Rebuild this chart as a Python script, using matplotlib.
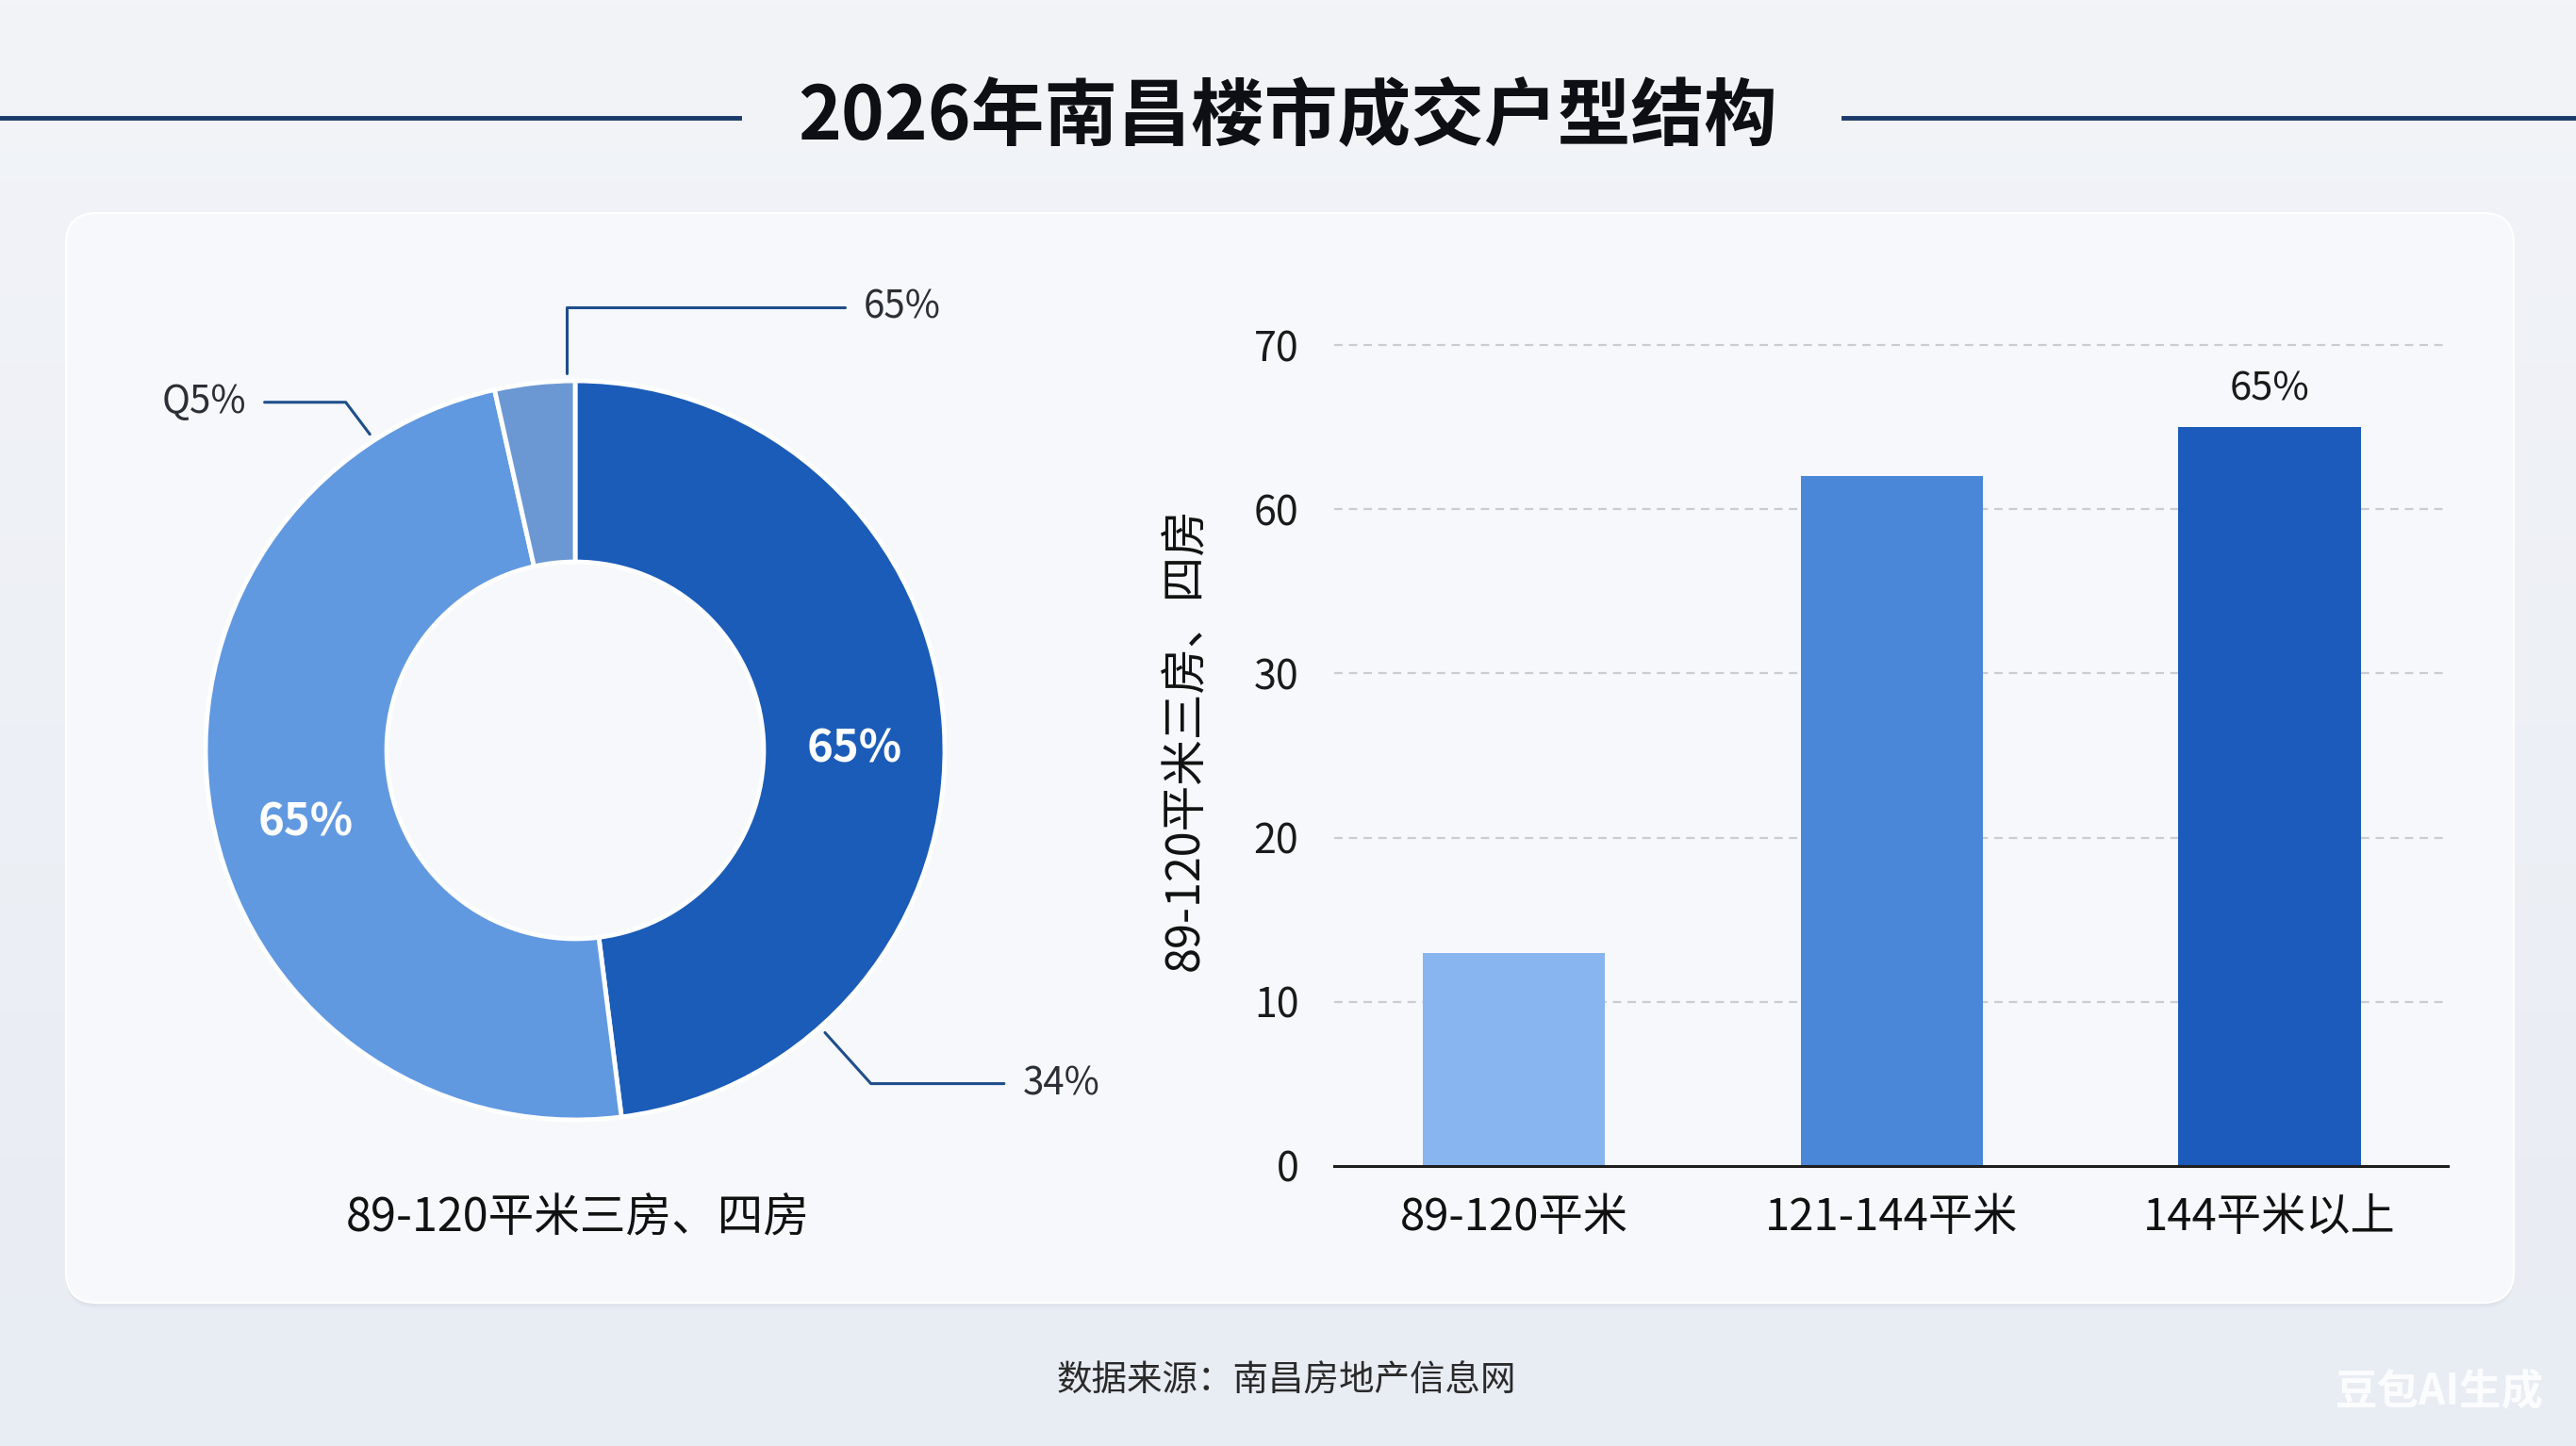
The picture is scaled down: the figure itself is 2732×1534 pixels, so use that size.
import numpy as np
import matplotlib
matplotlib.use('Agg')
import matplotlib.pyplot as plt
from matplotlib.patches import FancyBboxPatch

plt.rcParams['font.family'] = ['Noto Sans CJK SC', 'DejaVu Sans']

################################
#### data
################################

title = '2026年南昌楼市成交户型结构'
source = '数据来源：南昌房地产信息网'

# donut (clockwise from 12 o'clock)
donut_shares = [48.0, 48.5, 3.5]
donut_inner_labels = ['65%', '65%', '']
donut_outer_labels = ['34%', 'Q5%', '65%']
donut_caption = '89-120平米三房、四房'

# bars
bar_cats = ['89-120平米', '121-144平米', '144平米以上']
bar_vals = [13, 62, 65]
bar_labels = ['', '', '65%']
ytick_vals = [0, 10, 20, 30, 60, 70]
bar_ylabel = '89-120平米三房、四房'

################################
#### figure + background
################################

W, H = 2732, 1534
fig = plt.figure(figsize=(W / 100, H / 100), dpi=100)

bg = fig.add_axes([0, 0, 1, 1], zorder=-10)
grad = np.linspace(0, 1, 256).reshape(-1, 1)
bg.imshow(grad, aspect='auto', extent=[0, 1, 0, 1],
          cmap=matplotlib.colors.LinearSegmentedColormap.from_list('bg', ['#e8ecf3', '#f2f4f8']),
          origin='lower')
bg.set_axis_off()

# card with soft shadow
x0, y0, x1, y1 = 70 / W, 1 - 1382 / H, 2666 / W, 1 - 226 / H
for off, a in [(0.004, 0.05), (0.0025, 0.06)]:
    fig.patches.append(FancyBboxPatch((x0, y0 - off), x1 - x0, y1 - y0,
                                      boxstyle='round,pad=0,rounding_size=0.012',
                                      mutation_aspect=W / H, transform=fig.transFigure,
                                      facecolor='#9aa6b8', alpha=a, edgecolor='none', zorder=-5))
fig.patches.append(FancyBboxPatch((x0, y0), x1 - x0, y1 - y0,
                                  boxstyle='round,pad=0,rounding_size=0.012',
                                  mutation_aspect=W / H, transform=fig.transFigure,
                                  facecolor='#f6f8fb', edgecolor='#ffffff', lw=1.5, zorder=-4))

# title with side rules
fig.text(0.5, 1 - 125 / H, title, ha='center', va='center', fontsize=56,
         fontweight='bold', color='#0d0f14')
navy = '#1b3a6b'
fig.add_artist(plt.Line2D([0, 784 / W], [1 - 125 / H] * 2, color=navy, lw=3.5))
fig.add_artist(plt.Line2D([1955 / W, 1], [1 - 125 / H] * 2, color=navy, lw=3.5))

################################
#### donut
################################

size = 1176
cx, cy = 610, 796
axp = fig.add_axes([(cx - size / 2) / W, 1 - (cy + size / 2) / H, size / W, size / H])

donut_colors = ['#1b5cb8', '#6199e1', '#6b98d3']
wedges, _ = axp.pie(donut_shares, colors=donut_colors, startangle=90, counterclock=False,
                    radius=1, wedgeprops=dict(width=0.49, edgecolor='white', linewidth=3.5))
axp.set_xlim(-1.5, 1.5)
axp.set_ylim(-1.5, 1.5)
axp.set_axis_off()

# inner labels at ring middle
inner_angle_shift = [-3.3, 5, 0]
for w, lab, sh in zip(wedges, donut_inner_labels, inner_angle_shift):
    if not lab:
        continue
    ang = np.deg2rad((w.theta1 + w.theta2) / 2 + sh)
    axp.text(0.755 * np.cos(ang), 0.755 * np.sin(ang), lab, ha='center', va='center',
             color='white', fontsize=34, fontweight='bold')

# outer labels with leader lines: (anchor angle, text x, text y, ha, angleB)
leaders = [(-48.5, 1.21, -0.902, 'left', -48),
           (123, -0.89, 0.942, 'right', 127),
           (91.3, 0.78, 1.2, 'left', 90)]
for lab, (a, tx, ty, ha, ab) in zip(donut_outer_labels, leaders):
    r = np.deg2rad(a)
    axp.annotate(lab, xy=(1.02 * np.cos(r), 1.02 * np.sin(r)), xytext=(tx, ty),
                 ha=ha, va='center', fontsize=29, color='#2b2f36',
                 arrowprops=dict(arrowstyle='-', color='#1f4e8a', lw=2.2, shrinkA=12, shrinkB=0,
                                 connectionstyle='angle,angleA=0,angleB=%d,rad=0' % ab),
                 annotation_clip=False)

fig.text(613 / W, 1 - 1293 / H, donut_caption, ha='center', va='center', fontsize=35,
         fontweight='medium', color='#111')

################################
#### bars
################################

axb = fig.add_axes([1415 / W, 1 - 1237 / H, (2596 - 1415) / W, (1237 - 366) / H])
axb.set_facecolor('none')

steps = np.arange(len(ytick_vals))
def fwd(v):
    return np.interp(v, ytick_vals, steps)
def inv(u):
    return np.interp(u, steps, ytick_vals)
axb.set_yscale('function', functions=(fwd, inv))

bar_colors = ['#88b5ef', '#4a87d8', '#1c5bbb']
xpos = np.arange(len(bar_cats))
bars = axb.bar(xpos, bar_vals, width=0.483, color=bar_colors, zorder=3)
axb.bar_label(bars, labels=bar_labels, padding=14, fontsize=30, color='#1a1a1a')

axb.set_xlim(-0.476, 2.472)
axb.set_ylim(0, 70)
axb.set_yticks(ytick_vals)
axb.set_yticklabels([str(v) for v in ytick_vals])
axb.set_xticks(xpos)
axb.set_xticklabels(bar_cats)
axb.tick_params(axis='y', length=0, pad=27, labelsize=31, labelcolor='#1a1a1a')
axb.tick_params(axis='x', length=0, pad=22, labelsize=34, labelcolor='#111')
for t in axb.get_xticklabels():
    t.set_fontweight('medium')

for v in ytick_vals[1:]:
    axb.axhline(v, color='#c9cdd3', lw=1.6, ls=(0, (4, 3)), zorder=1, clip_on=False)

for s in ['top', 'right', 'left']:
    axb.spines[s].set_visible(False)
axb.spines['bottom'].set_color('#1e1e1e')
axb.spines['bottom'].set_linewidth(2.2)
axb.spines['bottom'].set_zorder(4)

fig.text(1258 / W, 1 - 784 / H, bar_ylabel, rotation=90, ha='center', va='center',
         fontsize=35, color='#111')

################################
#### footer + watermark
################################

fig.text(1364 / W, 1 - 1465 / H, source, ha='center', va='center', fontsize=27, color='#2a2a2a')
fig.text(2587 / W, 1 - 1477 / H, '豆包AI生成', ha='center', va='center', fontsize=32,
         fontweight='bold', color='white', alpha=0.85)

fig.savefig('out.png', dpi=100)
